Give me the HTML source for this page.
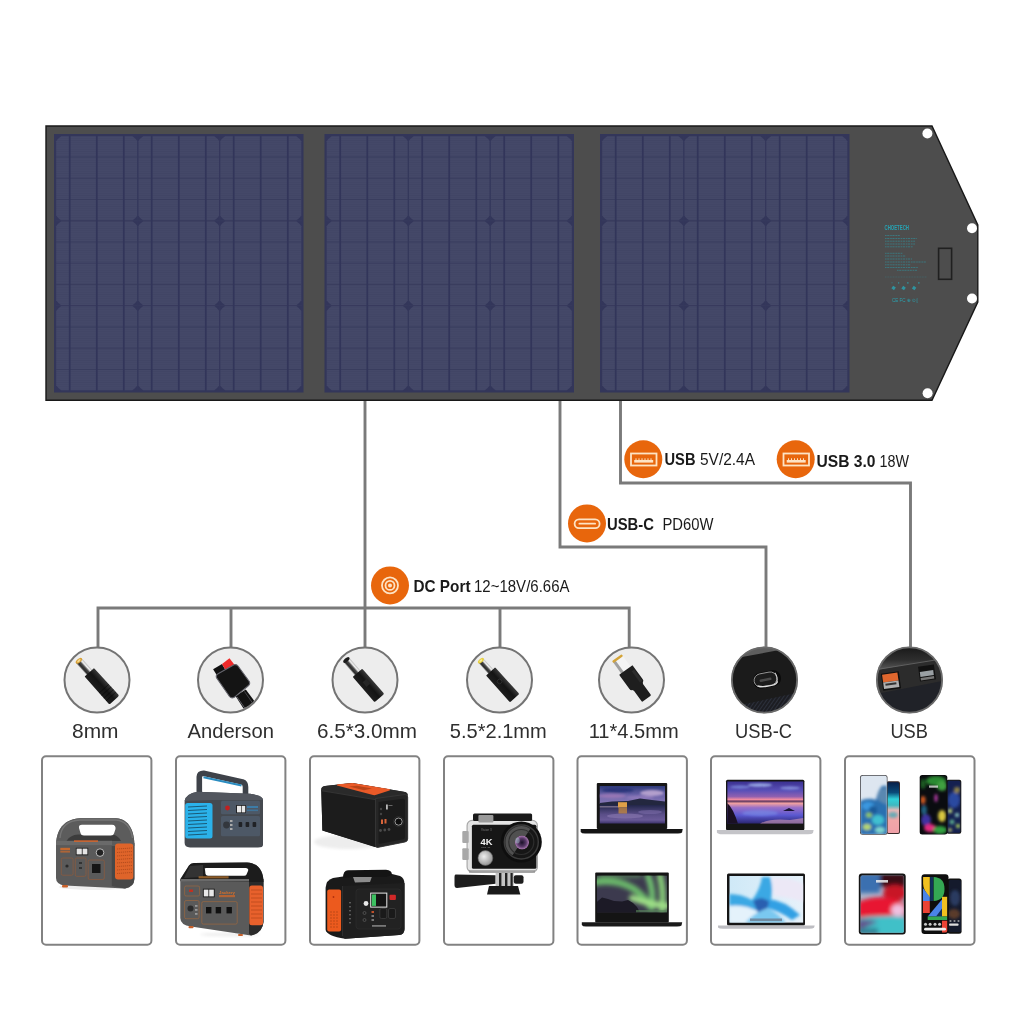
<!DOCTYPE html>
<html><head><meta charset="utf-8">
<style>
html,body{margin:0;padding:0;background:#fff;width:1024px;height:1024px;overflow:hidden}
svg{position:absolute;left:0;top:0;display:block;will-change:transform}
text{font-family:"Liberation Sans",sans-serif}
</style></head><body>
<svg width="1024" height="1024" viewBox="0 0 1024 1024">
<rect width="1024" height="1024" fill="#ffffff"/>
<!-- frame -->
<polygon points="46,126 932,126 977.8,225 977.8,302 932,400.2 46,400.2" fill="#4d4d4d" stroke="#181818" stroke-width="1.4"/>
<defs><pattern id="pScan" width="4" height="2.2" patternUnits="userSpaceOnUse"><rect width="4" height="2.2" fill="#444868"/><rect y="1.4" width="4" height="0.6" fill="#3f4364"/></pattern></defs>
<rect x="54" y="134" width="249.5" height="258.5" fill="#33365a"/>
<path d="M61.2,136.2 L132.4,136.2 Q135.4,138.2 137.4,141.2 L137.4,215.4 Q135.4,218.4 132.4,220.4 L61.2,220.4 Q58.2,218.4 56.2,215.4 L56.2,141.2 Q58.2,138.2 61.2,136.2 Z" fill="url(#pScan)"/>
<path d="M61.2,221.2 L132.4,221.2 Q135.4,223.2 137.4,226.2 L137.4,300.3 Q135.4,303.3 132.4,305.3 L61.2,305.3 Q58.2,303.3 56.2,300.3 L56.2,226.2 Q58.2,223.2 61.2,221.2 Z" fill="url(#pScan)"/>
<path d="M61.2,306.1 L132.4,306.1 Q135.4,308.1 137.4,311.1 L137.4,385.3 Q135.4,388.3 132.4,390.3 L61.2,390.3 Q58.2,388.3 56.2,385.3 L56.2,311.1 Q58.2,308.1 61.2,306.1 Z" fill="url(#pScan)"/>
<path d="M143.2,136.2 L214.3,136.2 Q217.3,138.2 219.3,141.2 L219.3,215.4 Q217.3,218.4 214.3,220.4 L143.2,220.4 Q140.2,218.4 138.2,215.4 L138.2,141.2 Q140.2,138.2 143.2,136.2 Z" fill="url(#pScan)"/>
<path d="M143.2,221.2 L214.3,221.2 Q217.3,223.2 219.3,226.2 L219.3,300.3 Q217.3,303.3 214.3,305.3 L143.2,305.3 Q140.2,303.3 138.2,300.3 L138.2,226.2 Q140.2,223.2 143.2,221.2 Z" fill="url(#pScan)"/>
<path d="M143.2,306.1 L214.3,306.1 Q217.3,308.1 219.3,311.1 L219.3,385.3 Q217.3,388.3 214.3,390.3 L143.2,390.3 Q140.2,388.3 138.2,385.3 L138.2,311.1 Q140.2,308.1 143.2,306.1 Z" fill="url(#pScan)"/>
<path d="M225.1,136.2 L296.3,136.2 Q299.3,138.2 301.3,141.2 L301.3,215.4 Q299.3,218.4 296.3,220.4 L225.1,220.4 Q222.1,218.4 220.1,215.4 L220.1,141.2 Q222.1,138.2 225.1,136.2 Z" fill="url(#pScan)"/>
<path d="M225.1,221.2 L296.3,221.2 Q299.3,223.2 301.3,226.2 L301.3,300.3 Q299.3,303.3 296.3,305.3 L225.1,305.3 Q222.1,303.3 220.1,300.3 L220.1,226.2 Q222.1,223.2 225.1,221.2 Z" fill="url(#pScan)"/>
<path d="M225.1,306.1 L296.3,306.1 Q299.3,308.1 301.3,311.1 L301.3,385.3 Q299.3,388.3 296.3,390.3 L225.1,390.3 Q222.1,388.3 220.1,385.3 L220.1,311.1 Q222.1,308.1 225.1,306.1 Z" fill="url(#pScan)"/>
<line x1="55.8" y1="157.0" x2="301.7" y2="157.0" stroke="#393c5e" stroke-width="0.9"/>
<line x1="55.8" y1="178.3" x2="301.7" y2="178.3" stroke="#393c5e" stroke-width="0.9"/>
<line x1="55.8" y1="199.5" x2="301.7" y2="199.5" stroke="#393c5e" stroke-width="0.9"/>
<line x1="55.8" y1="220.8" x2="301.7" y2="220.8" stroke="#393c5e" stroke-width="0.9"/>
<line x1="55.8" y1="242.0" x2="301.7" y2="242.0" stroke="#393c5e" stroke-width="0.9"/>
<line x1="55.8" y1="263.2" x2="301.7" y2="263.2" stroke="#393c5e" stroke-width="0.9"/>
<line x1="55.8" y1="284.5" x2="301.7" y2="284.5" stroke="#393c5e" stroke-width="0.9"/>
<line x1="55.8" y1="305.7" x2="301.7" y2="305.7" stroke="#393c5e" stroke-width="0.9"/>
<line x1="55.8" y1="327.0" x2="301.7" y2="327.0" stroke="#393c5e" stroke-width="0.9"/>
<line x1="55.8" y1="348.2" x2="301.7" y2="348.2" stroke="#393c5e" stroke-width="0.9"/>
<line x1="55.8" y1="369.5" x2="301.7" y2="369.5" stroke="#393c5e" stroke-width="0.9"/>
<line x1="69.7" y1="135.8" x2="69.7" y2="390.70000000000005" stroke="#32355a" stroke-width="1.7"/>
<line x1="96.8" y1="135.8" x2="96.8" y2="390.70000000000005" stroke="#32355a" stroke-width="1.7"/>
<line x1="123.8" y1="135.8" x2="123.8" y2="390.70000000000005" stroke="#32355a" stroke-width="1.7"/>
<line x1="151.7" y1="135.8" x2="151.7" y2="390.70000000000005" stroke="#32355a" stroke-width="1.7"/>
<line x1="178.8" y1="135.8" x2="178.8" y2="390.70000000000005" stroke="#32355a" stroke-width="1.7"/>
<line x1="205.8" y1="135.8" x2="205.8" y2="390.70000000000005" stroke="#32355a" stroke-width="1.7"/>
<line x1="233.7" y1="135.8" x2="233.7" y2="390.70000000000005" stroke="#32355a" stroke-width="1.7"/>
<line x1="260.7" y1="135.8" x2="260.7" y2="390.70000000000005" stroke="#32355a" stroke-width="1.7"/>
<line x1="287.8" y1="135.8" x2="287.8" y2="390.70000000000005" stroke="#32355a" stroke-width="1.7"/>
<line x1="137.8" y1="135.8" x2="137.8" y2="390.70000000000005" stroke="#35385c" stroke-width="1.1"/>
<line x1="219.7" y1="135.8" x2="219.7" y2="390.70000000000005" stroke="#35385c" stroke-width="1.1"/>
<rect x="324.5" y="134" width="249.5" height="258.5" fill="#33365a"/>
<path d="M331.7,136.2 L402.9,136.2 Q405.9,138.2 407.9,141.2 L407.9,215.4 Q405.9,218.4 402.9,220.4 L331.7,220.4 Q328.7,218.4 326.7,215.4 L326.7,141.2 Q328.7,138.2 331.7,136.2 Z" fill="url(#pScan)"/>
<path d="M331.7,221.2 L402.9,221.2 Q405.9,223.2 407.9,226.2 L407.9,300.3 Q405.9,303.3 402.9,305.3 L331.7,305.3 Q328.7,303.3 326.7,300.3 L326.7,226.2 Q328.7,223.2 331.7,221.2 Z" fill="url(#pScan)"/>
<path d="M331.7,306.1 L402.9,306.1 Q405.9,308.1 407.9,311.1 L407.9,385.3 Q405.9,388.3 402.9,390.3 L331.7,390.3 Q328.7,388.3 326.7,385.3 L326.7,311.1 Q328.7,308.1 331.7,306.1 Z" fill="url(#pScan)"/>
<path d="M413.7,136.2 L484.8,136.2 Q487.8,138.2 489.8,141.2 L489.8,215.4 Q487.8,218.4 484.8,220.4 L413.7,220.4 Q410.7,218.4 408.7,215.4 L408.7,141.2 Q410.7,138.2 413.7,136.2 Z" fill="url(#pScan)"/>
<path d="M413.7,221.2 L484.8,221.2 Q487.8,223.2 489.8,226.2 L489.8,300.3 Q487.8,303.3 484.8,305.3 L413.7,305.3 Q410.7,303.3 408.7,300.3 L408.7,226.2 Q410.7,223.2 413.7,221.2 Z" fill="url(#pScan)"/>
<path d="M413.7,306.1 L484.8,306.1 Q487.8,308.1 489.8,311.1 L489.8,385.3 Q487.8,388.3 484.8,390.3 L413.7,390.3 Q410.7,388.3 408.7,385.3 L408.7,311.1 Q410.7,308.1 413.7,306.1 Z" fill="url(#pScan)"/>
<path d="M495.6,136.2 L566.8,136.2 Q569.8,138.2 571.8,141.2 L571.8,215.4 Q569.8,218.4 566.8,220.4 L495.6,220.4 Q492.6,218.4 490.6,215.4 L490.6,141.2 Q492.6,138.2 495.6,136.2 Z" fill="url(#pScan)"/>
<path d="M495.6,221.2 L566.8,221.2 Q569.8,223.2 571.8,226.2 L571.8,300.3 Q569.8,303.3 566.8,305.3 L495.6,305.3 Q492.6,303.3 490.6,300.3 L490.6,226.2 Q492.6,223.2 495.6,221.2 Z" fill="url(#pScan)"/>
<path d="M495.6,306.1 L566.8,306.1 Q569.8,308.1 571.8,311.1 L571.8,385.3 Q569.8,388.3 566.8,390.3 L495.6,390.3 Q492.6,388.3 490.6,385.3 L490.6,311.1 Q492.6,308.1 495.6,306.1 Z" fill="url(#pScan)"/>
<line x1="326.3" y1="157.0" x2="572.2" y2="157.0" stroke="#393c5e" stroke-width="0.9"/>
<line x1="326.3" y1="178.3" x2="572.2" y2="178.3" stroke="#393c5e" stroke-width="0.9"/>
<line x1="326.3" y1="199.5" x2="572.2" y2="199.5" stroke="#393c5e" stroke-width="0.9"/>
<line x1="326.3" y1="220.8" x2="572.2" y2="220.8" stroke="#393c5e" stroke-width="0.9"/>
<line x1="326.3" y1="242.0" x2="572.2" y2="242.0" stroke="#393c5e" stroke-width="0.9"/>
<line x1="326.3" y1="263.2" x2="572.2" y2="263.2" stroke="#393c5e" stroke-width="0.9"/>
<line x1="326.3" y1="284.5" x2="572.2" y2="284.5" stroke="#393c5e" stroke-width="0.9"/>
<line x1="326.3" y1="305.7" x2="572.2" y2="305.7" stroke="#393c5e" stroke-width="0.9"/>
<line x1="326.3" y1="327.0" x2="572.2" y2="327.0" stroke="#393c5e" stroke-width="0.9"/>
<line x1="326.3" y1="348.2" x2="572.2" y2="348.2" stroke="#393c5e" stroke-width="0.9"/>
<line x1="326.3" y1="369.5" x2="572.2" y2="369.5" stroke="#393c5e" stroke-width="0.9"/>
<line x1="340.2" y1="135.8" x2="340.2" y2="390.70000000000005" stroke="#32355a" stroke-width="1.7"/>
<line x1="367.3" y1="135.8" x2="367.3" y2="390.70000000000005" stroke="#32355a" stroke-width="1.7"/>
<line x1="394.3" y1="135.8" x2="394.3" y2="390.70000000000005" stroke="#32355a" stroke-width="1.7"/>
<line x1="422.2" y1="135.8" x2="422.2" y2="390.70000000000005" stroke="#32355a" stroke-width="1.7"/>
<line x1="449.2" y1="135.8" x2="449.2" y2="390.70000000000005" stroke="#32355a" stroke-width="1.7"/>
<line x1="476.3" y1="135.8" x2="476.3" y2="390.70000000000005" stroke="#32355a" stroke-width="1.7"/>
<line x1="504.2" y1="135.8" x2="504.2" y2="390.70000000000005" stroke="#32355a" stroke-width="1.7"/>
<line x1="531.2" y1="135.8" x2="531.2" y2="390.70000000000005" stroke="#32355a" stroke-width="1.7"/>
<line x1="558.3" y1="135.8" x2="558.3" y2="390.70000000000005" stroke="#32355a" stroke-width="1.7"/>
<line x1="408.3" y1="135.8" x2="408.3" y2="390.70000000000005" stroke="#35385c" stroke-width="1.1"/>
<line x1="490.2" y1="135.8" x2="490.2" y2="390.70000000000005" stroke="#35385c" stroke-width="1.1"/>
<rect x="600" y="134" width="249.5" height="258.5" fill="#33365a"/>
<path d="M607.2,136.2 L678.4,136.2 Q681.4,138.2 683.4,141.2 L683.4,215.4 Q681.4,218.4 678.4,220.4 L607.2,220.4 Q604.2,218.4 602.2,215.4 L602.2,141.2 Q604.2,138.2 607.2,136.2 Z" fill="url(#pScan)"/>
<path d="M607.2,221.2 L678.4,221.2 Q681.4,223.2 683.4,226.2 L683.4,300.3 Q681.4,303.3 678.4,305.3 L607.2,305.3 Q604.2,303.3 602.2,300.3 L602.2,226.2 Q604.2,223.2 607.2,221.2 Z" fill="url(#pScan)"/>
<path d="M607.2,306.1 L678.4,306.1 Q681.4,308.1 683.4,311.1 L683.4,385.3 Q681.4,388.3 678.4,390.3 L607.2,390.3 Q604.2,388.3 602.2,385.3 L602.2,311.1 Q604.2,308.1 607.2,306.1 Z" fill="url(#pScan)"/>
<path d="M689.2,136.2 L760.3,136.2 Q763.3,138.2 765.3,141.2 L765.3,215.4 Q763.3,218.4 760.3,220.4 L689.2,220.4 Q686.2,218.4 684.2,215.4 L684.2,141.2 Q686.2,138.2 689.2,136.2 Z" fill="url(#pScan)"/>
<path d="M689.2,221.2 L760.3,221.2 Q763.3,223.2 765.3,226.2 L765.3,300.3 Q763.3,303.3 760.3,305.3 L689.2,305.3 Q686.2,303.3 684.2,300.3 L684.2,226.2 Q686.2,223.2 689.2,221.2 Z" fill="url(#pScan)"/>
<path d="M689.2,306.1 L760.3,306.1 Q763.3,308.1 765.3,311.1 L765.3,385.3 Q763.3,388.3 760.3,390.3 L689.2,390.3 Q686.2,388.3 684.2,385.3 L684.2,311.1 Q686.2,308.1 689.2,306.1 Z" fill="url(#pScan)"/>
<path d="M771.1,136.2 L842.3,136.2 Q845.3,138.2 847.3,141.2 L847.3,215.4 Q845.3,218.4 842.3,220.4 L771.1,220.4 Q768.1,218.4 766.1,215.4 L766.1,141.2 Q768.1,138.2 771.1,136.2 Z" fill="url(#pScan)"/>
<path d="M771.1,221.2 L842.3,221.2 Q845.3,223.2 847.3,226.2 L847.3,300.3 Q845.3,303.3 842.3,305.3 L771.1,305.3 Q768.1,303.3 766.1,300.3 L766.1,226.2 Q768.1,223.2 771.1,221.2 Z" fill="url(#pScan)"/>
<path d="M771.1,306.1 L842.3,306.1 Q845.3,308.1 847.3,311.1 L847.3,385.3 Q845.3,388.3 842.3,390.3 L771.1,390.3 Q768.1,388.3 766.1,385.3 L766.1,311.1 Q768.1,308.1 771.1,306.1 Z" fill="url(#pScan)"/>
<line x1="601.8" y1="157.0" x2="847.6999999999999" y2="157.0" stroke="#393c5e" stroke-width="0.9"/>
<line x1="601.8" y1="178.3" x2="847.6999999999999" y2="178.3" stroke="#393c5e" stroke-width="0.9"/>
<line x1="601.8" y1="199.5" x2="847.6999999999999" y2="199.5" stroke="#393c5e" stroke-width="0.9"/>
<line x1="601.8" y1="220.8" x2="847.6999999999999" y2="220.8" stroke="#393c5e" stroke-width="0.9"/>
<line x1="601.8" y1="242.0" x2="847.6999999999999" y2="242.0" stroke="#393c5e" stroke-width="0.9"/>
<line x1="601.8" y1="263.2" x2="847.6999999999999" y2="263.2" stroke="#393c5e" stroke-width="0.9"/>
<line x1="601.8" y1="284.5" x2="847.6999999999999" y2="284.5" stroke="#393c5e" stroke-width="0.9"/>
<line x1="601.8" y1="305.7" x2="847.6999999999999" y2="305.7" stroke="#393c5e" stroke-width="0.9"/>
<line x1="601.8" y1="327.0" x2="847.6999999999999" y2="327.0" stroke="#393c5e" stroke-width="0.9"/>
<line x1="601.8" y1="348.2" x2="847.6999999999999" y2="348.2" stroke="#393c5e" stroke-width="0.9"/>
<line x1="601.8" y1="369.5" x2="847.6999999999999" y2="369.5" stroke="#393c5e" stroke-width="0.9"/>
<line x1="615.7" y1="135.8" x2="615.7" y2="390.70000000000005" stroke="#32355a" stroke-width="1.7"/>
<line x1="642.8" y1="135.8" x2="642.8" y2="390.70000000000005" stroke="#32355a" stroke-width="1.7"/>
<line x1="669.8" y1="135.8" x2="669.8" y2="390.70000000000005" stroke="#32355a" stroke-width="1.7"/>
<line x1="697.7" y1="135.8" x2="697.7" y2="390.70000000000005" stroke="#32355a" stroke-width="1.7"/>
<line x1="724.8" y1="135.8" x2="724.8" y2="390.70000000000005" stroke="#32355a" stroke-width="1.7"/>
<line x1="751.8" y1="135.8" x2="751.8" y2="390.70000000000005" stroke="#32355a" stroke-width="1.7"/>
<line x1="779.7" y1="135.8" x2="779.7" y2="390.70000000000005" stroke="#32355a" stroke-width="1.7"/>
<line x1="806.7" y1="135.8" x2="806.7" y2="390.70000000000005" stroke="#32355a" stroke-width="1.7"/>
<line x1="833.8" y1="135.8" x2="833.8" y2="390.70000000000005" stroke="#32355a" stroke-width="1.7"/>
<line x1="683.8" y1="135.8" x2="683.8" y2="390.70000000000005" stroke="#35385c" stroke-width="1.1"/>
<line x1="765.7" y1="135.8" x2="765.7" y2="390.70000000000005" stroke="#35385c" stroke-width="1.1"/>
<!-- label area -->
<g fill="#27a3b3">
<text x="884.5" y="229.5" font-size="7" font-weight="bold" textLength="24.5" lengthAdjust="spacingAndGlyphs">CHOETECH</text>
</g>
<g stroke="#2aa0ae" stroke-width="0.9" opacity="0.55" stroke-dasharray="1.6 0.6 2.2 0.8">
<line x1="885" y1="235.5" x2="900" y2="235.5"/>
<line x1="885" y1="238.5" x2="917" y2="238.5"/>
<line x1="885" y1="241.2" x2="915" y2="241.2"/>
<line x1="885" y1="244" x2="915" y2="244"/>
<line x1="885" y1="246.8" x2="913" y2="246.8"/>
<line x1="885" y1="253.3" x2="903" y2="253.3"/>
<line x1="885" y1="256" x2="906" y2="256"/>
<line x1="885" y1="259" x2="912" y2="259"/>
<line x1="885" y1="262" x2="926" y2="262"/>
<line x1="885" y1="264.8" x2="911" y2="264.8"/>
<line x1="885" y1="267.5" x2="918" y2="267.5"/>
<line x1="897" y1="270.3" x2="917" y2="270.3"/>
</g>
<line x1="885" y1="277" x2="927" y2="277" stroke="#2aa0ae" stroke-width="0.6" opacity="0.4" stroke-dasharray="1 0.6"/>
<g fill="#2aa0ae" opacity="0.85">
<rect x="892" y="286.3" width="3.2" height="3.2" transform="rotate(35 893.6 287.9)"/>
<rect x="902" y="286.5" width="3.2" height="3.2" transform="rotate(35 903.6 288.1)"/>
<rect x="912.5" y="286.5" width="3.2" height="3.2" transform="rotate(35 914.1 288.1)"/>
<rect x="891.5" y="282.3" width="1" height="1" opacity="0.6"/><rect x="898" y="282.3" width="1.2" height="1.2"/><rect x="907" y="282.3" width="1.6" height="1.2"/><rect x="918" y="282.3" width="1.6" height="1.2"/>
</g>
<text x="892" y="301.5" font-size="5.2" fill="#2aa0ae" textLength="27" lengthAdjust="spacingAndGlyphs">CE FC ⊕ ⊙ ▯</text>
<rect x="938.6" y="248.3" width="13" height="31" fill="none" stroke="#202020" stroke-width="1.6"/>
<g fill="#ffffff">
<circle cx="927.4" cy="133.5" r="5"/><circle cx="972" cy="228.3" r="5"/><circle cx="972" cy="298.5" r="5"/><circle cx="927.6" cy="393.3" r="5"/>
</g>
<!-- lines -->
<g fill="none" stroke="#7a7a7a" stroke-width="2.9" stroke-linejoin="miter">
<polyline points="365,401 365,648"/>
<polyline points="98,648 98,608 629.2,608 629.2,648"/>
<polyline points="231,608 231,648"/>
<polyline points="500,608 500,648"/>
<polyline points="560,401 560,547 766,547 766,648"/>
<polyline points="620.5,401 620.5,483 910.5,483 910.5,648"/>
</g>
<!-- connector circles -->
<g fill="#ededed" stroke="#747474" stroke-width="2">
<circle cx="97" cy="680" r="32.5"/>
<circle cx="230.5" cy="680" r="32.5"/>
<circle cx="365" cy="680" r="32.5"/>
<circle cx="499.5" cy="680" r="32.5"/>
<circle cx="631.5" cy="680" r="32.5"/>
<circle cx="764.5" cy="680" r="32.5"/>
<circle cx="909.5" cy="680" r="32.5"/>
</g>
<defs>
<clipPath id="cpUC"><circle cx="764.5" cy="680" r="32.5"/></clipPath>
<clipPath id="cpUA"><circle cx="909.5" cy="680" r="32.5"/></clipPath>
<clipPath id="cpC1"><circle cx="97" cy="680" r="31.5"/></clipPath>
<clipPath id="cpC2"><circle cx="230.5" cy="680" r="31.5"/></clipPath>
<clipPath id="cpC3"><circle cx="365" cy="680" r="31.5"/></clipPath>
<clipPath id="cpC4"><circle cx="499.5" cy="680" r="31.5"/></clipPath>
<clipPath id="cpC5"><circle cx="631.5" cy="680" r="31.5"/></clipPath>
<linearGradient id="gBody" x1="0" y1="0" x2="0" y2="1">
<stop offset="0" stop-color="#3a3a3a"/><stop offset="0.45" stop-color="#141414"/><stop offset="1" stop-color="#1e1e1e"/>
</linearGradient>
<linearGradient id="gBarrel" x1="0" y1="0" x2="0" y2="1">
<stop offset="0" stop-color="#bdbdbd"/><stop offset="0.25" stop-color="#f4f4f4"/><stop offset="0.5" stop-color="#4a4a4a"/><stop offset="0.8" stop-color="#2a2a2a"/><stop offset="1" stop-color="#9a9a9a"/>
</linearGradient>
<pattern id="pStripe" width="3" height="3" patternUnits="userSpaceOnUse" patternTransform="rotate(35)">
<rect width="3" height="3" fill="#1c1d22"/><rect width="0.9" height="3" fill="#2e323e"/>
</pattern>
</defs>
<!-- plug 1: 8mm -->
<g clip-path="url(#cpC1)">
<g transform="translate(97.3,681.2) rotate(48)">
<rect x="-27.5" y="-3.7" width="17" height="7.4" fill="url(#gBarrel)"/>
<ellipse cx="-27.5" cy="0" rx="1.9" ry="3.9" fill="#d9a032"/>
<ellipse cx="-27.5" cy="0" rx="0.9" ry="2.2" fill="#f4d890"/>
<path d="M-12,-5.8 Q-12,-6.3 -11,-6.3 L24,-6.6 Q25.5,-6.6 25.5,-5 L25.5,5 Q25.5,6.6 24,6.6 L-11,6.3 Q-12,6.3 -12,5.8 Z" fill="url(#gBody)"/>
<g stroke="#000" stroke-width="0.8" opacity="0.55"><line x1="10" y1="-6.4" x2="10" y2="6.4"/><line x1="13.5" y1="-6.5" x2="13.5" y2="6.5"/><line x1="17" y1="-6.5" x2="17" y2="6.5"/><line x1="20.5" y1="-6.6" x2="20.5" y2="6.6"/></g>
</g>
</g>
<!-- plug 2: Anderson -->
<g clip-path="url(#cpC2)">
<polygon points="235.5,696 245.8,689.4 258,706 247,714" fill="#111"/>
<line x1="237" y1="697" x2="247.5" y2="712" stroke="#6a6a72" stroke-width="0.9"/><line x1="244.5" y1="691.5" x2="255" y2="706.5" stroke="#55555c" stroke-width="0.8"/>
<polygon points="213.1,669.3 222,664.1 226.8,672.3 217.9,677.1" fill="#111"/>
<polygon points="222,664.1 229.5,658.3 235,665.5 226.8,672.3" fill="#ee2a2a"/>
<path d="M216.5,677.8 Q215.5,675 218.5,673.5 L234,664.8 Q236.5,664 238,666 L249.3,681.5 Q250.5,684 248,686 L234.3,697.3 Q231.5,698.8 229.5,696.5 Z" fill="#141414" stroke="#66666e" stroke-width="1.1"/>
</g>
<!-- plug 3: 6.5*3.0 -->
<g clip-path="url(#cpC3)">
<g transform="translate(363.1,679.2) rotate(49)">
<rect x="-25.5" y="-3.6" width="18" height="7.2" fill="url(#gBarrel)"/>
<ellipse cx="-25.5" cy="0" rx="1.8" ry="3.8" fill="#1a1a1a"/>
<path d="M-8.5,-5.8 Q-8.5,-6.3 -7.5,-6.3 L23.5,-6.4 Q25,-6.4 25,-5 L25,5 Q25,6.4 23.5,6.4 L-7.5,6.3 Q-8.5,6.3 -8.5,5.8 Z" fill="url(#gBody)"/>
<rect x="2" y="-2.5" width="6" height="5" fill="#262626"/>
</g>
</g>
<!-- plug 4: 5.5*2.1 -->
<g clip-path="url(#cpC4)">
<g transform="translate(497.6,679.2) rotate(48)">
<rect x="-25" y="-3.3" width="15" height="6.6" fill="url(#gBarrel)"/>
<ellipse cx="-25" cy="0" rx="1.9" ry="3.6" fill="#e8d040"/>
<ellipse cx="-25" cy="0" rx="0.8" ry="1.8" fill="#f8f0a0"/>
<path d="M-10.5,-5.6 Q-10.5,-6.1 -9.5,-6.1 L24,-6.3 Q25.5,-6.3 25.5,-5 L25.5,5 Q25.5,6.3 24,6.3 L-9.5,6.1 Q-10.5,6.1 -10.5,5.6 Z" fill="url(#gBody)"/>
<circle cx="3" cy="0" r="2.3" fill="none" stroke="#3a3a3a" stroke-width="0.6"/>
</g>
</g>
<!-- plug 5: 11*4.5 -->
<g clip-path="url(#cpC5)">
<g transform="translate(632,678.5) rotate(54)">
<rect x="-24.5" y="-5.8" width="15.5" height="11.6" fill="#f4f4f4"/>
<rect x="-24.5" y="2.8" width="15.5" height="3" fill="#a0a0a0"/>
<rect x="-25.8" y="-6" width="2.4" height="12" rx="1" fill="#d4a438"/>
<path d="M-10.5,-7.8 Q-10.5,-8.2 -9.5,-8.2 L7,-8.2 Q9,-8.2 9.5,-6.5 L11,-5.6 L24,-5.6 Q25,-5.6 25,-4.5 L25,4.5 Q25,5.6 24,5.6 L11,5.6 L9.5,6.5 Q9,8.2 7,8.2 L-9.5,8.2 Q-10.5,8.2 -10.5,7.8 Z" fill="#1e1e1e"/>
<rect x="-6" y="-7" width="14" height="3" fill="#2c2c2c"/>
</g>
</g>
<!-- USB-C port image -->
<g clip-path="url(#cpUC)">
<rect x="731" y="646" width="67" height="68" fill="#1b1b1b"/>
<polygon points="729,644 800,644 800,650 776.8,650.5 742,657 729,661" fill="#5e5e5e"/>
<polygon points="729,708 746,703.8 790.5,694.2 800,692 800,716 729,716" fill="url(#pStripe)"/>
<g transform="translate(766.5,679.5) rotate(-11)">
<rect x="-13.5" y="-8" width="28" height="16" rx="7.5" fill="#0a0a0a"/>
<rect x="-12.5" y="-6.8" width="23" height="13.2" rx="6.6" fill="#1c1c1c" stroke="#9a9a9a" stroke-width="0.9"/>
<path d="M-10,4.5 Q-6,6.8 0,6.8 L5,6.8 Q9,6.8 10.5,4" fill="none" stroke="#e0e0e0" stroke-width="1.2"/>
<rect x="-7" y="-1.2" width="12" height="2.6" rx="1" fill="#4a4a4a"/>
<path d="M9.5,-5 Q12,0 9.5,5" fill="none" stroke="#cfcfcf" stroke-width="1"/>
</g>
</g>
<circle cx="764.5" cy="680" r="32.5" fill="none" stroke="#6a6a6a" stroke-width="1.6"/>
<!-- USB port image -->
<g clip-path="url(#cpUA)">
<rect x="876" y="646" width="68" height="68" fill="#2c2c2c"/>
<linearGradient id="gTopU" x1="0" y1="0" x2="0" y2="1"><stop offset="0" stop-color="#161616"/><stop offset="0.6" stop-color="#2e2e2e"/><stop offset="1" stop-color="#5a5a5a"/></linearGradient>
<polygon points="874,645 944,645 944,659 933.5,659.7 879.5,669.6 874,670" fill="url(#gTopU)"/>
<polygon points="874,694 882.9,692.8 941,681.2 944,681 944,716 874,716" fill="#202228"/>
<line x1="874" y1="670" x2="944" y2="658.6" stroke="#6a6a6a" stroke-width="0.8"/>
<g transform="translate(891,681) rotate(-8)">
<rect x="-9" y="-8.5" width="18" height="17" fill="#111"/>
<rect x="-8" y="-7.5" width="15.5" height="8" fill="#e0672e"/>
<rect x="-8" y="0.5" width="15.5" height="6.5" fill="#b0b0b0"/>
<rect x="-6" y="2" width="11" height="2" fill="#333"/>
</g>
<g transform="translate(927,673) rotate(-8)">
<rect x="-8" y="-7.5" width="16" height="15" fill="#111"/>
<rect x="-7" y="-2" width="13.5" height="5" fill="#9aa0a4"/>
<rect x="-7" y="4" width="13.5" height="2.5" fill="#777"/>
</g>
</g>
<circle cx="909.5" cy="680" r="32.5" fill="none" stroke="#6a6a6a" stroke-width="1.6"/>

<!-- orange badges -->
<g fill="#e8660c">
<circle cx="587" cy="523.4" r="19"/>
<circle cx="643.3" cy="459.3" r="19"/>
<circle cx="795.7" cy="459.3" r="19"/>
<circle cx="390" cy="585.4" r="19"/>
</g>
<g fill="none" stroke="#fde3c4" stroke-width="1.8">
<rect x="574.6" y="519.3" width="25" height="8.8" rx="4.4"/>
<rect x="631" y="453.5" width="25.5" height="12"/>
<rect x="783.5" y="453.5" width="25.5" height="12"/>
<circle cx="390" cy="585.4" r="8"/>
<circle cx="390" cy="585.4" r="4.5"/>
</g>
<g fill="#fde3c4">
<rect x="634.2" y="460" width="19" height="2.6"/>
<rect x="786.7" y="460" width="19" height="2.6"/>
<rect x="578.5" y="522.7" width="17.5" height="1.9" rx="0.9"/>
<g transform="translate(0,0)"><rect x="635.5" y="458.3" width="1" height="1.8"/><rect x="638.5" y="458.3" width="1" height="1.8"/><rect x="641.5" y="458.3" width="1" height="1.8"/><rect x="644.5" y="458.3" width="1" height="1.8"/><rect x="647.5" y="458.3" width="1" height="1.8"/><rect x="650.5" y="458.3" width="1" height="1.8"/></g>
<g transform="translate(152.5,0)"><rect x="635.5" y="458.3" width="1" height="1.8"/><rect x="638.5" y="458.3" width="1" height="1.8"/><rect x="641.5" y="458.3" width="1" height="1.8"/><rect x="644.5" y="458.3" width="1" height="1.8"/><rect x="647.5" y="458.3" width="1" height="1.8"/><rect x="650.5" y="458.3" width="1" height="1.8"/></g>
<circle cx="390" cy="585.4" r="2"/>
</g>
<!-- badge labels -->
<g fill="#1a1a1a" font-size="16.3" lengthAdjust="spacingAndGlyphs">
<text x="607" y="529.8" font-weight="bold" textLength="47" lengthAdjust="spacingAndGlyphs">USB-C</text>
<text x="662.5" y="529.8" textLength="51" lengthAdjust="spacingAndGlyphs">PD60W</text>
<text x="664.5" y="465.4" font-weight="bold" textLength="31" lengthAdjust="spacingAndGlyphs">USB</text>
<text x="700" y="465.4" textLength="55" lengthAdjust="spacingAndGlyphs">5V/2.4A</text>
<text x="816.5" y="467" font-weight="bold" textLength="59" lengthAdjust="spacingAndGlyphs">USB 3.0</text>
<text x="879.5" y="467" textLength="29.5" lengthAdjust="spacingAndGlyphs">18W</text>
<text x="413.5" y="592.2" font-weight="bold" textLength="57" lengthAdjust="spacingAndGlyphs">DC Port</text>
<text x="474" y="592.2" textLength="95.5" lengthAdjust="spacingAndGlyphs">12~18V/6.66A</text>
</g>
<g fill="#2e2e2e" font-size="21" text-anchor="middle">
<text x="95.3" y="737.6" textLength="46.5" lengthAdjust="spacingAndGlyphs">8mm</text>
<text x="230.7" y="737.6" textLength="86.5" lengthAdjust="spacingAndGlyphs">Anderson</text>
<text x="367" y="737.6" textLength="100" lengthAdjust="spacingAndGlyphs">6.5*3.0mm</text>
<text x="498.3" y="737.6" textLength="97" lengthAdjust="spacingAndGlyphs">5.5*2.1mm</text>
<text x="633.7" y="737.6" textLength="90" lengthAdjust="spacingAndGlyphs">11*4.5mm</text>
<text x="763.6" y="737.6" textLength="57" lengthAdjust="spacingAndGlyphs">USB-C</text>
<text x="909.2" y="737.6" textLength="37.5" lengthAdjust="spacingAndGlyphs">USB</text>
</g>
<!-- product boxes -->
<g fill="none" stroke="#828282" stroke-width="2">
<rect x="42" y="756.3" width="109.4" height="188.5" rx="4"/>
<rect x="176" y="756.3" width="109.4" height="188.5" rx="4"/>
<rect x="310" y="756.3" width="109.4" height="188.5" rx="4"/>
<rect x="444" y="756.3" width="109.4" height="188.5" rx="4"/>
<rect x="577.5" y="756.3" width="109.4" height="188.5" rx="4"/>
<rect x="711" y="756.3" width="109.4" height="188.5" rx="4"/>
<rect x="845" y="756.3" width="129.5" height="188.5" rx="4"/>
</g>
<defs>
<linearGradient id="gJtop" x1="0" y1="0" x2="0" y2="1"><stop offset="0" stop-color="#7a7a7a"/><stop offset="1" stop-color="#5e5e5e"/></linearGradient>
<linearGradient id="gShadow" x1="0" y1="0" x2="0" y2="1"><stop offset="0" stop-color="#e6e6e6"/><stop offset="1" stop-color="#ffffff"/></linearGradient>
<radialGradient id="gLens" cx="0.5" cy="0.5" r="0.55"><stop offset="0" stop-color="#1a1028"/><stop offset="0.55" stop-color="#5a3a6a"/><stop offset="0.85" stop-color="#a070a8"/><stop offset="1" stop-color="#2a2a2a"/></radialGradient>
<radialGradient id="gSilver" cx="0.4" cy="0.4" r="0.7"><stop offset="0" stop-color="#eeeeee"/><stop offset="1" stop-color="#8a8a8a"/></radialGradient>
<linearGradient id="gTP1" x1="0" y1="0" x2="0" y2="1">
<stop offset="0" stop-color="#3d4a88"/><stop offset="0.3" stop-color="#8a78b0"/><stop offset="0.38" stop-color="#2a2c4c"/><stop offset="0.55" stop-color="#1f2140"/><stop offset="0.75" stop-color="#6a5a94"/><stop offset="1" stop-color="#3a3468"/>
</linearGradient>
<linearGradient id="gTP2" x1="0" y1="0" x2="1" y2="0.3">
<stop offset="0" stop-color="#3c3a58"/><stop offset="0.35" stop-color="#78c878"/><stop offset="0.55" stop-color="#4a5a58"/><stop offset="0.8" stop-color="#90d870"/><stop offset="1" stop-color="#5a8a5a"/>
</linearGradient>
<linearGradient id="gMB1" x1="0" y1="0" x2="0" y2="1">
<stop offset="0" stop-color="#4a3a90"/><stop offset="0.15" stop-color="#8a9ae0"/><stop offset="0.3" stop-color="#7050b0"/><stop offset="0.42" stop-color="#f090a8"/><stop offset="0.5" stop-color="#503070"/><stop offset="0.56" stop-color="#f0a0a0"/><stop offset="0.7" stop-color="#6a50b8"/><stop offset="0.85" stop-color="#3a3ab0"/><stop offset="1" stop-color="#2a2050"/>
</linearGradient>
<linearGradient id="gMB2" x1="0" y1="0" x2="1" y2="0">
<stop offset="0" stop-color="#d4ecf8"/><stop offset="0.5" stop-color="#b8dcf2"/><stop offset="1" stop-color="#e8f0f8"/>
</linearGradient>
<linearGradient id="gS20" x1="0" y1="0" x2="0" y2="1">
<stop offset="0" stop-color="#dfe8f2"/><stop offset="0.35" stop-color="#c8d8e8"/><stop offset="0.5" stop-color="#4a90c0"/><stop offset="0.75" stop-color="#2a78b0"/><stop offset="1" stop-color="#60c0c8"/>
</linearGradient>
<linearGradient id="gS10" x1="0" y1="0" x2="0" y2="1">
<stop offset="0" stop-color="#0a3050"/><stop offset="0.3" stop-color="#20b0c8"/><stop offset="0.55" stop-color="#80c8d0"/><stop offset="0.65" stop-color="#f0b0b0"/><stop offset="1" stop-color="#f0a8b0"/>
</linearGradient>
<linearGradient id="gG8" x1="0" y1="0" x2="0" y2="1">
<stop offset="0" stop-color="#0a2a10"/><stop offset="0.2" stop-color="#1a5a20"/><stop offset="0.45" stop-color="#101820"/><stop offset="0.7" stop-color="#2a3a70"/><stop offset="0.85" stop-color="#c02080"/><stop offset="1" stop-color="#208a30"/>
</linearGradient>
<linearGradient id="gV50" x1="0" y1="0" x2="0" y2="1">
<stop offset="0" stop-color="#1a2a5a"/><stop offset="0.5" stop-color="#2a4a8a"/><stop offset="0.8" stop-color="#6a8a4a"/><stop offset="1" stop-color="#1a2a3a"/>
</linearGradient>
<linearGradient id="gIPad" x1="0" y1="0" x2="0.3" y2="1">
<stop offset="0" stop-color="#3a68a8"/><stop offset="0.3" stop-color="#8aa0c8"/><stop offset="0.5" stop-color="#e02038"/><stop offset="0.65" stop-color="#d83a70"/><stop offset="0.8" stop-color="#50a8b0"/><stop offset="1" stop-color="#30b8b8"/>
</linearGradient>
<linearGradient id="gP3a" x1="0" y1="0" x2="0" y2="1">
<stop offset="0" stop-color="#10141e"/><stop offset="0.5" stop-color="#2a3448"/><stop offset="1" stop-color="#151515"/>
</linearGradient>
</defs>

<!-- ===== Box 1: Jackery 290 ===== -->
<g>
<ellipse cx="95" cy="887" rx="36" ry="3" fill="#eeeeee"/>
<path d="M56,846 C56,830 64,819 80,818.3 L116,818.3 C129,819 134.4,831 134.4,846 L134.4,879 Q134,887 125,888.5 L65,885.5 Q56,884.5 56,878 Z" fill="#5a5a5a"/>
<path d="M111.8,843 L134.4,843 L134.4,879 Q134,887 125,888.5 L111.8,886 Z" fill="#484848"/>
<path d="M56,846 C56,830 64,819 80,818.3 L116,818.3 C129,819 134.4,831 134.4,846 Z" fill="#5c5c5c"/>
<path d="M66.5,841 Q70,835 78,834.5 L112,834.5 Q118,835 121,841 Z" fill="#3c3c3c"/>
<path d="M79,828 Q78.5,824.8 82,824.8 L112,824.8 Q116,825 115.5,829 L114,833.5 Q113.5,835.5 111,835.5 L84,835.5 Q81,835.5 80.5,833 Z" fill="#ffffff"/>
<path d="M60,838 C61,826 68,820.5 80,820 L116,820 C126,821 131,828 132.5,838" fill="none" stroke="#757575" stroke-width="1.3"/>
<rect x="56" y="840.8" width="56" height="4.2" fill="#6a6a6a"/>
<rect x="74" y="840.3" width="24" height="1.6" fill="#d8652a" opacity="0.9"/>
<rect x="115" y="843.5" width="18.3" height="36" rx="3" fill="#df642a"/>
<g stroke="#a8461a" stroke-width="0.8" stroke-dasharray="1.2 0.8"><line x1="117" y1="849" x2="132" y2="848"/><line x1="117" y1="852.5" x2="132" y2="851.5"/><line x1="117" y1="856" x2="132" y2="855"/><line x1="117" y1="859.5" x2="132" y2="858.5"/><line x1="117" y1="863" x2="132" y2="862"/><line x1="117" y1="866.5" x2="132" y2="865.5"/><line x1="117" y1="870" x2="132" y2="869"/><line x1="117" y1="873.5" x2="132" y2="872.5"/></g>
<rect x="60.3" y="847.8" width="9.7" height="2.2" fill="#d06a2a" opacity="0.9"/>
<rect x="60.3" y="850.6" width="9.7" height="2" fill="#d06a2a" opacity="0.7"/>
<rect x="75.8" y="847.8" width="12.4" height="7.5" fill="#1a1a1a"/>
<rect x="76.6" y="848.6" width="5.2" height="5.8" fill="#e4e4e4"/><rect x="82.6" y="848.6" width="4.8" height="5.8" fill="#e4e4e4"/>
<circle cx="100" cy="852.6" r="3.8" fill="#222" stroke="#c8c8c8" stroke-width="0.9"/>
<g fill="none" stroke="#9a5a36" stroke-width="0.6"><rect x="61.3" y="858" width="11.8" height="17.2" rx="1.5"/><rect x="75.3" y="858" width="10.7" height="18.3" rx="1.5"/><rect x="88.2" y="860" width="16.1" height="19.5" rx="1.5"/></g>
<rect x="92" y="864" width="8.5" height="9" fill="#151515"/>
<circle cx="67" cy="866" r="1.6" fill="#2a2a2a"/>
<rect x="79" y="862" width="3" height="2" fill="#333"/><rect x="79" y="867" width="3" height="2" fill="#333"/>
<rect x="62" y="885" width="6" height="2.5" rx="1" fill="#c8602a"/>
</g>

<!-- ===== Box 2 upper: blue station ===== -->
<g>
<path d="M199.3,795 L199.3,777 Q199.5,773.3 203.5,773.3 L242.5,782 Q245.5,783 245.5,787 L245.5,797" fill="none" stroke="#3e4249" stroke-width="5.6" stroke-linejoin="round"/>
<path d="M203.5,777.2 L241.5,785.6" stroke="#2a8cc0" stroke-width="2"/>
<path d="M184.6,801 Q186,793.5 197.5,791.7 L250,793.8 Q263,795.5 263,800 L263,845 Q263,847.5 258,847.5 L190,847.5 Q184.6,847 184.6,843 Z" fill="#45494f"/>
<path d="M184.6,801 Q186,793.5 197.5,791.7 L250,793.8 Q263,795.5 263,800 L212.5,800 Z" fill="#52565e"/>
<rect x="185.2" y="803" width="27.3" height="35.4" rx="2.5" fill="#2bb2ea"/>
<g stroke="#1a5a78" stroke-width="1.1"><line x1="188" y1="807" x2="207" y2="806"/><line x1="188" y1="810.5" x2="207" y2="809.5"/><line x1="188" y1="814" x2="207" y2="813"/><line x1="188" y1="817.5" x2="207" y2="816.5"/><line x1="188" y1="821" x2="207" y2="820"/><line x1="188" y1="824.5" x2="207" y2="823.5"/><line x1="188" y1="828" x2="207" y2="827"/><line x1="188" y1="831.5" x2="207" y2="830.5"/><line x1="188" y1="835" x2="207" y2="834"/></g>
<rect x="221" y="800.8" width="39" height="13.5" rx="1.5" fill="#4d5866"/>
<rect x="221" y="816" width="39" height="20.3" rx="1.5" fill="#4d5866"/>
<rect x="236.2" y="805" width="9.6" height="8.2" fill="#151515"/>
<rect x="237" y="805.8" width="4" height="6.6" fill="#e8e8e8"/><rect x="241.6" y="805.8" width="3.6" height="6.6" fill="#e8e8e8"/>
<rect x="247" y="806" width="11" height="2" fill="#3a86b8" opacity="0.8"/><rect x="247" y="809.5" width="11" height="1.6" fill="#3a86b8" opacity="0.6"/>
<circle cx="227.5" cy="808" r="2.4" fill="#c02020"/>
<circle cx="226.5" cy="825" r="3.4" fill="#33373d"/>
<rect x="230" y="820" width="2.5" height="2" fill="#aaa"/><rect x="230" y="824" width="2.5" height="2" fill="#aaa"/><rect x="230" y="828" width="2.5" height="2" fill="#aaa"/>
<rect x="238.6" y="822" width="3.6" height="5" rx="0.8" fill="#202226"/><rect x="245.6" y="822" width="3.6" height="5" rx="0.8" fill="#202226"/><rect x="252.6" y="822" width="3.6" height="5" rx="0.8" fill="#202226"/>
</g>

<!-- ===== Box 2 lower: Jackery 1000 ===== -->
<g>
<ellipse cx="230" cy="934.5" rx="30" ry="2" fill="#eeeeee" filter="url(#fB15)"/>
<path d="M180.3,879 L189,865.5 Q190.5,863 194,863 L247,862.4 C259,863 263.5,872 263.5,882 L263.5,922 Q262.5,933 251,935.5 L191,926.5 Q180.3,925 180.3,918 Z" fill="#5a5a5a"/>
<path d="M249,879 L263.5,879 L263.5,922 Q262.5,933 251,935.5 L249,934 Z" fill="#2a2a2a"/>
<path d="M180.3,879.5 L189,865.5 Q190.5,863 194,863 L247,862.4 C259,863 263.5,872 263.5,882 L180.3,881 Z" fill="#1c1c1c"/>
<path d="M190,866 L203,865 L203,877 L184,878 Z" fill="#333"/>
<path d="M205,869.5 Q204,868 206,868 L246,868 Q249,868.5 248,871 L246.5,874.5 Q246,875.8 244,875.8 L208,875.8 Q206,875.8 205.5,874 Z" fill="#ffffff"/>
<rect x="198.6" y="876.2" width="30" height="2.2" fill="#a86a2a" opacity="0.8"/>
<rect x="180.3" y="879" width="68.7" height="2.5" fill="#6a6a6a"/>
<rect x="249.3" y="885.4" width="13.7" height="39.8" rx="2.5" fill="#e8612c"/>
<g stroke="#a8401a" stroke-width="0.6"><line x1="251" y1="890" x2="262" y2="890"/><line x1="251" y1="894" x2="262" y2="894"/><line x1="251" y1="898" x2="262" y2="898"/><line x1="251" y1="902" x2="262" y2="902"/><line x1="251" y1="906" x2="262" y2="906"/><line x1="251" y1="910" x2="262" y2="910"/><line x1="251" y1="914" x2="262" y2="914"/><line x1="251" y1="918" x2="262" y2="918"/></g>
<rect x="184.6" y="886" width="15" height="10" rx="1.5" fill="none" stroke="#a86a3a" stroke-width="0.6"/>
<rect x="189" y="889.5" width="4" height="2.5" fill="#c03020"/>
<rect x="202.9" y="888.7" width="11.8" height="8.6" fill="#1a1a1a"/>
<rect x="203.8" y="889.6" width="4.6" height="6.8" fill="#e8e8e8"/><rect x="209.2" y="889.6" width="4.6" height="6.8" fill="#e8e8e8"/>
<text x="219" y="894" font-size="4" font-weight="bold" fill="#d8702a" textLength="16" lengthAdjust="spacingAndGlyphs">Jackery</text><rect x="219" y="895" width="16" height="2.2" fill="#c8652a" opacity="0.8"/>
<rect x="184.6" y="900.5" width="14.5" height="18.2" rx="1.5" fill="none" stroke="#a86a3a" stroke-width="0.6"/>
<rect x="201.8" y="901.6" width="35.4" height="22.5" rx="1.5" fill="none" stroke="#a86a3a" stroke-width="0.6"/>
<circle cx="190.5" cy="908.5" r="3" fill="#2a2a2a"/>
<rect x="195" y="905" width="2.5" height="1.8" fill="#999"/><rect x="195" y="909" width="2.5" height="1.8" fill="#999"/><rect x="195" y="913" width="2.5" height="1.8" fill="#999"/>
<rect x="206" y="907" width="5.4" height="6.4" fill="#111"/><rect x="215.7" y="907" width="5.4" height="6.4" fill="#111"/><rect x="226.5" y="907" width="5.4" height="6.4" fill="#111"/>
<rect x="188.5" y="926" width="5" height="2.2" rx="1" fill="#c8602a"/><rect x="238" y="934" width="5" height="2" rx="1" fill="#c8602a"/>
</g>

<!-- ===== Box 3 upper: black cube orange top ===== -->
<g>
<ellipse cx="348" cy="842" rx="34" ry="7" fill="#ededed" filter="url(#fB15)"/>
<path d="M321.3,790 Q321,786.5 325,786 L352,782.9 L405,792 Q408,793 407.7,797 L407.7,839 Q407.7,841.5 405,842 L377.5,847.5 L322.4,830.5 Z" fill="#1f1f1f"/>
<polygon points="321.3,790 375.5,799 375.5,847.3 322.4,830.5" fill="#1c1c1c"/>
<path d="M321.3,790 Q321,786.5 325,786 L352,782.9 L405,792 Q408,793 407.7,795 L375.5,799.5 L321.3,790.5 Z" fill="#2a2a2a"/>
<path d="M337,785.5 Q336,784.5 338,784.2 L352.5,783 L389,789 Q391,789.5 389.5,790.5 L375.5,795 Q374.5,795.3 373,795 Z" fill="#ea5a28"/>
<path d="M349,786.5 L357,785.7 L372,788.6 L364,790.2 Z" fill="#b84418"/>
<line x1="322" y1="790.8" x2="375" y2="799.6" stroke="#3a3a3a" stroke-width="0.8"/>
<path d="M375.5,798.5 L405,794.5 Q407.7,794.5 407.7,797.5 L407.7,839 Q407.7,841.5 405,842 L377.5,847.5 Q375.5,847.5 375.5,845 Z" fill="#262626" stroke="#3a3a3a" stroke-width="0.8"/>
<path d="M378.5,802 L403,798.8 Q405,798.8 405,800.5 L405,837 Q405,839 403,839.3 L380,843.8 Q378.5,844 378.5,842.5 Z" fill="#1b1b1b"/>
<circle cx="398.6" cy="821.6" r="3.6" fill="#0e0e0e" stroke="#9a9a9a" stroke-width="1"/>
<circle cx="398.6" cy="821.6" r="5.2" fill="none" stroke="#2e2e2e" stroke-width="0.8"/>
<rect x="381" y="819.5" width="2" height="4.5" fill="#d8643a"/><rect x="384.5" y="819" width="2" height="4.5" fill="#d8643a"/>
<rect x="386" y="804.5" width="1.8" height="5" fill="#bbb"/>
<rect x="388.5" y="805" width="4" height="1" fill="#666"/>
<circle cx="381" cy="809" r="1.2" fill="#444"/><circle cx="381" cy="814" r="1.2" fill="#444"/>
<circle cx="380.5" cy="830.5" r="1.4" fill="#4a4a4a"/><circle cx="384.8" cy="830" r="1.4" fill="#4a4a4a"/><circle cx="389" cy="829.5" r="1.4" fill="#4a4a4a"/>
</g>

<!-- ===== Box 3 lower: FlashFish ===== -->
<g>
<path d="M325.6,888 Q326,880 333,878 L343,876.5 L392,874 L400,876 Q404.5,878 404.5,884 L404.5,929 Q404.5,934.5 399,935 L345,938.8 Q327,936 325.6,930 Z" fill="#1a1a1a"/>
<path d="M353,877 L372,876.5 L370,882 L355,882.5 Z" fill="#8c8c8c"/>
<path d="M343,878 Q343,870.5 348,870.2 L386,869.8 Q392,870 392,875 L386,877 L352,877 Z" fill="#141414"/>
<path d="M342.2,886 L404.5,883 L404.5,929 Q404.5,934.5 399,935 L345,938.8 L342.2,937 Z" fill="#1f1f1f"/>
<rect x="327.2" y="889.4" width="13.9" height="42" rx="2" fill="#ec5a1e"/>
<g fill="#9a3a12" opacity="0.75">
<circle cx="331" cy="912" r="0.7"/><circle cx="334" cy="912" r="0.7"/><circle cx="337" cy="912" r="0.7"/>
<circle cx="331" cy="915" r="0.7"/><circle cx="334" cy="915" r="0.7"/><circle cx="337" cy="915" r="0.7"/>
<circle cx="331" cy="918" r="0.7"/><circle cx="334" cy="918" r="0.7"/><circle cx="337" cy="918" r="0.7"/>
<circle cx="331" cy="921" r="0.7"/><circle cx="334" cy="921" r="0.7"/><circle cx="337" cy="921" r="0.7"/>
<circle cx="331" cy="924" r="0.7"/><circle cx="334" cy="924" r="0.7"/><circle cx="337" cy="924" r="0.7"/>
<circle cx="331" cy="927" r="0.7"/><circle cx="334" cy="927" r="0.7"/><circle cx="337" cy="927" r="0.7"/>
</g>
<circle cx="333.5" cy="897" r="0.9" fill="#b03010"/>
<line x1="342.5" y1="886" x2="342.5" y2="936" stroke="#2e2e2e" stroke-width="1"/>
<g fill="#5a5a5a"><rect x="349" y="902" width="2" height="1.4"/><rect x="349" y="906" width="2" height="1.4"/><rect x="349" y="910" width="2" height="1.4"/><rect x="349" y="914" width="2" height="1.4"/><rect x="349" y="918" width="2" height="1.4"/><rect x="349" y="922" width="2" height="1.4"/></g>
<rect x="356" y="889" width="45" height="40" rx="3" fill="#222" stroke="#2c2c2c" stroke-width="0.8"/>
<rect x="370.2" y="892.6" width="17.1" height="15" fill="#e8e8e8"/>
<rect x="371.2" y="893.6" width="15.1" height="13" fill="#141414"/>
<rect x="371.8" y="894.4" width="4.2" height="11.5" fill="#3cc060"/>
<rect x="389.5" y="894.7" width="6.4" height="5.4" rx="1" fill="#d02828"/>
<circle cx="366" cy="903.5" r="2.4" fill="#e8e8e8"/>
<rect x="379.8" y="908.5" width="7" height="10" rx="1.5" fill="#1a1a1a" stroke="#3a3a3a" stroke-width="0.9"/>
<rect x="388.5" y="908.5" width="7" height="10" rx="1.5" fill="#1a1a1a" stroke="#3a3a3a" stroke-width="0.9"/>
<rect x="371.5" y="911" width="2.5" height="2" fill="#c0502a"/><rect x="371.5" y="915" width="2.5" height="2" fill="#777"/><rect x="371.5" y="919" width="2.5" height="2" fill="#777"/>
<circle cx="364.5" cy="913" r="1.5" fill="none" stroke="#666" stroke-width="0.6"/><circle cx="364.5" cy="920" r="1.5" fill="none" stroke="#666" stroke-width="0.6"/>
<rect x="372" y="925" width="14" height="1.8" fill="#777"/>
</g>

<!-- ===== Box 4: action camera ===== -->
<g>
<rect x="467.1" y="820.4" width="70.3" height="51.6" rx="5" fill="#e4e4e4" stroke="#a8a8a8" stroke-width="1.2"/>
<rect x="469" y="870" width="66" height="3" fill="#888" opacity="0.6"/>
<rect x="473" y="813.4" width="59.1" height="7.6" rx="1.5" fill="#1a1a1a"/>
<rect x="478.4" y="815" width="15" height="7.6" rx="1" fill="#9a9a9a"/>
<rect x="471.9" y="824.7" width="64.5" height="44" rx="1.5" fill="#161616"/>
<rect x="462.3" y="831.1" width="6.4" height="11.9" rx="1" fill="#a8a8a8"/>
<rect x="462.3" y="848.3" width="6.4" height="11.8" rx="1" fill="#a8a8a8"/>
<circle cx="521.3" cy="842" r="20.5" fill="#0e0e0e"/>
<circle cx="521.3" cy="842" r="17" fill="#161616" stroke="#3c3c3c" stroke-width="1.4"/>
<clipPath id="cpLens"><circle cx="521.3" cy="842" r="16"/></clipPath><polygon clip-path="url(#cpLens)" points="533,825 512,856 500,856 500,820 540,820" fill="#8a8a8a" opacity="0.5"/>
<circle cx="521.3" cy="842" r="12.5" fill="none" stroke="#2e2e2e" stroke-width="1.2"/>
<circle cx="522" cy="842.5" r="7" fill="url(#gLens)"/>
<ellipse cx="517.5" cy="840.5" rx="2.2" ry="3" fill="#a8d0d0" opacity="0.45"/>
<text x="481" y="831" font-size="3" fill="#777">Vision 3</text>
<text x="481" y="848" font-size="2.4" fill="#888">Ultra HD</text>
<text x="480.6" y="845.2" font-size="9.4" font-weight="bold" fill="#f4f4f4">4K</text>
<circle cx="485.4" cy="858" r="7.4" fill="url(#gSilver)" stroke="#666" stroke-width="0.6"/>
<path d="M455.5,874.5 L495.6,875.2 L495.6,883.8 L457,888 Q454.5,888 454.5,885 L454.5,877 Q454.5,874.5 455.5,874.5 Z" fill="#1d1d1d"/>
<rect x="495.6" y="873" width="18.2" height="13" fill="#c4c4c4"/>
<rect x="499" y="873" width="2.4" height="13" fill="#222"/><rect x="505" y="873" width="2.4" height="13" fill="#222"/><rect x="510.5" y="873" width="2.2" height="13" fill="#222"/>
<rect x="513.8" y="875.2" width="9.7" height="8.6" rx="2" fill="#1d1d1d"/>
<path d="M487,894.5 L489,886 L518,886 L520.3,894.5 Z" fill="#1a1a1a"/>
</g>

<!-- ===== Box 5: ThinkPads ===== -->
<defs>
<filter id="fBlur1" x="-20%" y="-20%" width="140%" height="140%"><feGaussianBlur stdDeviation="1.2"/></filter>
<filter id="fBlur2" x="-20%" y="-20%" width="140%" height="140%"><feGaussianBlur stdDeviation="0.7"/></filter>
<clipPath id="cpTP1"><rect x="599.5" y="786" width="65.5" height="37.7"/></clipPath>
<clipPath id="cpTP2"><rect x="596.8" y="875.6" width="70.4" height="37"/></clipPath>
<clipPath id="cpMB1"><rect x="727.2" y="781.3" width="76.2" height="42.4"/></clipPath>
<clipPath id="cpMB2"><rect x="729.3" y="876" width="74.1" height="46.8"/></clipPath>
<linearGradient id="gTPsky" x1="0" y1="0" x2="0" y2="1"><stop offset="0" stop-color="#2e3a7a"/><stop offset="0.5" stop-color="#6a62a8"/><stop offset="1" stop-color="#8a7ab8"/></linearGradient>
<linearGradient id="gTPwater" x1="0" y1="0" x2="0" y2="1"><stop offset="0" stop-color="#22264a"/><stop offset="0.5" stop-color="#5a4e88"/><stop offset="0.8" stop-color="#6a5a98"/><stop offset="1" stop-color="#3a3068"/></linearGradient>
</defs>
<g>
<rect x="596.8" y="782.9" width="70.4" height="46" rx="1" fill="#161616"/>
<g clip-path="url(#cpTP1)">
<rect x="599.5" y="786" width="65.5" height="18" fill="url(#gTPsky)"/>
<g filter="url(#fBlur1)">
<ellipse cx="618" cy="790" rx="16" ry="2.5" fill="#2a357a"/>
<ellipse cx="612" cy="796" rx="14" ry="2.2" fill="#a07ab8" opacity="0.8"/>
<ellipse cx="652" cy="793" rx="12" ry="3" fill="#c8b0d8" opacity="0.8"/>
<ellipse cx="640" cy="797.5" rx="14" ry="1.8" fill="#9a80c0" opacity="0.7"/>
</g>
<path d="M599.5,803 L612,801.5 L628,801 L640,798.5 L652,800 L665,801.5 L665,805 L599.5,805.5 Z" fill="#23273f"/>
<rect x="599.5" y="805" width="65.5" height="18.7" fill="url(#gTPwater)"/>
<g filter="url(#fBlur2)">
<ellipse cx="625" cy="816" rx="18" ry="2.5" fill="#8a78b0" opacity="0.6"/>
<ellipse cx="650" cy="812" rx="12" ry="2" fill="#7a6aa8" opacity="0.6"/>
</g>
<rect x="599.5" y="806.2" width="20" height="1.2" fill="#9a8aa0" opacity="0.8"/>
<rect x="618" y="802.2" width="9" height="5.2" fill="#e0a048"/>
<rect x="618.5" y="807.5" width="8.5" height="6" fill="#c88a40" opacity="0.75" filter="url(#fBlur2)"/>
</g>
<path d="M580.7,829 L682.7,829 L682,832.5 Q681,833.6 678,833.6 L585,833.6 Q581.5,833.6 580.7,832 Z" fill="#141414"/>
</g>
<g>
<rect x="595.2" y="872.4" width="73.6" height="50" rx="1" fill="#141414"/>
<g clip-path="url(#cpTP2)">
<rect x="596.8" y="875.6" width="70.4" height="37" fill="#3c3a4e"/>
<filter id="fBlur3" x="-30%" y="-30%" width="160%" height="160%"><feGaussianBlur stdDeviation="2"/></filter>
<g filter="url(#fBlur3)" fill="none" stroke-linecap="round">
<path d="M596,882 Q618,879 634,889 Q644,896 650,906" stroke="#6ab86a" stroke-width="7"/>
<path d="M648,876 Q654,890 652,908" stroke="#70c070" stroke-width="6"/>
<path d="M660,876 Q664,892 662,910" stroke="#88d078" stroke-width="6"/>
<path d="M632,898 Q648,904 667,906" stroke="#a0e088" stroke-width="6"/>
<path d="M600,876 L640,876" stroke="#5a8a5a" stroke-width="3"/>
</g>
<path d="M596.8,902 L602,897.5 L608,899 L614,901 L622,901.5 L628,900 L633,903 L637,907 L640,912.6 L596.8,912.6 Z" fill="#1c1a26"/>
<rect x="636" y="910" width="31" height="2.6" fill="#5a8a5a" opacity="0.6" filter="url(#fBlur2)"/>
</g>
<path d="M581.8,922.3 L682.2,922.3 L681.5,925.5 Q680.5,926.6 677,926.6 L586,926.6 Q582.5,926.6 581.8,925 Z" fill="#1a1a1a"/>
</g>

<!-- ===== Box 6: MacBooks ===== -->
<defs>
<linearGradient id="gMB1b" x1="0" y1="0" x2="0" y2="1">
<stop offset="0" stop-color="#3a3090"/><stop offset="0.22" stop-color="#5a50b8"/><stop offset="0.36" stop-color="#9060b0"/><stop offset="0.43" stop-color="#f08aa0"/><stop offset="0.47" stop-color="#603860"/><stop offset="0.52" stop-color="#f0a0a0"/><stop offset="0.62" stop-color="#9a70c8"/><stop offset="0.8" stop-color="#5a58d0"/><stop offset="1" stop-color="#2a2470"/>
</linearGradient>
<linearGradient id="gMB2b" x1="0" y1="0" x2="1" y2="0"><stop offset="0" stop-color="#cfe9f7"/><stop offset="1" stop-color="#e6f1fa"/></linearGradient>
</defs>
<g>
<rect x="726" y="779.7" width="78.4" height="50.5" rx="1.5" fill="#151515"/>
<g clip-path="url(#cpMB1)">
<rect x="727.2" y="781.3" width="76.2" height="42.4" fill="url(#gMB1b)"/>
<g filter="url(#fBlur1)">
<ellipse cx="760" cy="785" rx="12" ry="1.8" fill="#b0c8f8" opacity="0.75"/>
<ellipse cx="740" cy="787" rx="10" ry="1.5" fill="#90a8f0" opacity="0.6"/>
<ellipse cx="790" cy="788" rx="10" ry="1.5" fill="#a8c0f8" opacity="0.6"/>
<ellipse cx="760" cy="813" rx="18" ry="3" fill="#7a90e8" opacity="0.6"/>
</g>
<path d="M727.2,803 Q733,808 738,823.7 L727.2,823.7 Z" fill="#1a1024"/>
<path d="M783,811 L789,808 L795,811 Z" fill="#1a1534"/>
<path d="M760,823.7 Q770,818 790,820 L803.4,818 L803.4,823.7 Z" fill="#f0b0c0" opacity="0.5"/>
</g>
<path d="M716.9,830 L813.6,830 L813,833 Q812,834.3 808,834.3 L722,834.3 Q718,834.3 716.9,832.5 Z" fill="#c4c4c8"/>
</g>
<g>
<rect x="727" y="873.4" width="78" height="52.1" rx="1.5" fill="#151515"/>
<g clip-path="url(#cpMB2)">
<rect x="729.3" y="876" width="74.1" height="46.8" fill="url(#gMB2b)"/>
<g filter="url(#fB15)">
<path d="M729.3,894 Q742,894 752,900 Q760,890 762,877 L770,877 Q774,890 770,903 L760,912 Q745,905 729.3,906 Z" fill="#3aa8e4"/>
<path d="M729.3,906 Q745,904 758,912 L752,922.8 L729.3,922.8 Z" fill="#e4f2fb"/>
<path d="M768,899 Q784,900 800,915 L792,920 Q778,910 766,908 Z" fill="#30a0e4"/>
<path d="M772,878 Q792,877 803.4,884 L803.4,902 Q788,897 774,896 Z" fill="#ece8f6"/>
<path d="M753,901 Q762,895 769,902 Q768,911 759,915 Z" fill="#2a5eb0"/>
<path d="M745,922.8 Q755,912 768,908 Q780,915 786,922.8 Z" fill="#7ac8f0"/>
</g>
<rect x="750" y="918.5" width="32" height="2.6" fill="#6a7080" opacity="0.7"/>
</g>
<path d="M718,925.5 L814.7,925.5 L814,927.8 Q813,928.8 809,928.8 L723,928.8 Q719,928.8 718,927.5 Z" fill="#bdbdc2"/>
</g>

<!-- ===== Box 7: phones ===== -->
<defs>
<filter id="fB15" x="-30%" y="-30%" width="160%" height="160%"><feGaussianBlur stdDeviation="1.4"/></filter>
<filter id="fB25" x="-30%" y="-30%" width="160%" height="160%"><feGaussianBlur stdDeviation="2.2"/></filter>
<clipPath id="cpS20"><rect x="860.8" y="775.8" width="26" height="58.1" rx="2"/></clipPath>
<clipPath id="cpG8"><rect x="920.5" y="775.8" width="26" height="58.1" rx="2"/></clipPath>
<clipPath id="cpV50"><rect x="947.5" y="780.8" width="12.8" height="52" rx="1.5"/></clipPath>
<clipPath id="cpIPad"><rect x="860.6" y="875.4" width="43.2" height="57.3" rx="1.5"/></clipPath>
<clipPath id="cpP3a"><rect x="948.6" y="880" width="12.4" height="52" rx="1.5"/></clipPath>
<clipPath id="cpP4"><rect x="922.8" y="876" width="24.4" height="56.8" rx="2"/></clipPath>
<linearGradient id="gS10b" x1="0" y1="0" x2="0" y2="1">
<stop offset="0" stop-color="#08204a"/><stop offset="0.2" stop-color="#0a4a78"/><stop offset="0.33" stop-color="#30d0d8"/><stop offset="0.45" stop-color="#40b8c0"/><stop offset="0.55" stop-color="#e8b8b8"/><stop offset="0.7" stop-color="#f0a8a8"/><stop offset="1" stop-color="#f0a0a8"/>
</linearGradient>
</defs>
<g>
<rect x="886.5" y="781.3" width="13.5" height="52.8" rx="2" fill="#3a2a2a"/>
<rect x="887.3" y="782.3" width="11.8" height="50.8" rx="1.5" fill="url(#gS10b)"/>
<ellipse cx="893" cy="815" rx="5" ry="3" fill="#30a8b8" opacity="0.7" filter="url(#fB15)"/>
<rect x="860" y="775" width="27.5" height="59.7" rx="2.5" fill="#4a4a4e"/>
<g clip-path="url(#cpS20)">
<rect x="860" y="775" width="28" height="60" fill="#dde6f0"/>
<g filter="url(#fB15)">
<path d="M860,801 Q868,797 876,800 Q878,790 882,786 Q887,785 888,787 L888,835 L860,835 Z" fill="#2a70b0"/>
<path d="M878,792 Q884,786 888,788 L888,805 Q882,803 878,800 Z" fill="#5a88b0"/>
<ellipse cx="868" cy="806" rx="6" ry="4" fill="#3a98e0"/>
<ellipse cx="878" cy="820" rx="6" ry="5" fill="#40c0d0"/>
<ellipse cx="869" cy="815" rx="3" ry="2.5" fill="#90c860"/>
<ellipse cx="867" cy="827" rx="4" ry="3" fill="#b8d870"/>
<ellipse cx="880" cy="830" rx="5" ry="3" fill="#80d8d0"/>
<ellipse cx="873" cy="810" rx="4" ry="4" fill="#1a5a98"/>
</g>
</g>
<rect x="946.3" y="779.8" width="15" height="54" rx="2" fill="#1a1a1a"/>
<g clip-path="url(#cpV50)">
<rect x="947" y="780" width="14" height="54" fill="#142050"/>
<g filter="url(#fB15)">
<ellipse cx="954" cy="800" rx="6" ry="8" fill="#2a4aa0"/>
<circle cx="950" cy="811" r="2.2" fill="#c8e080"/>
<circle cx="957" cy="815" r="2" fill="#a0e0d0"/>
<circle cx="952" cy="822" r="2.4" fill="#60b090"/>
<circle cx="958" cy="826" r="2" fill="#c0e860"/>
<circle cx="950" cy="830" r="1.8" fill="#e0e070"/>
<ellipse cx="957" cy="790" rx="3" ry="3" fill="#c8b040" opacity="0.7"/>
</g>
</g>
<rect x="919.7" y="775" width="27.6" height="59.5" rx="2.5" fill="#0c0c0c"/>
<g clip-path="url(#cpG8)">
<rect x="920" y="775" width="28" height="60" fill="#0a0c10"/>
<g filter="url(#fB15)">
<ellipse cx="936" cy="781" rx="10" ry="5" fill="#2a8a30"/>
<ellipse cx="942" cy="786" rx="5" ry="5" fill="#40a040"/>
<ellipse cx="923" cy="784" rx="3" ry="5" fill="#1a5a20"/>
<ellipse cx="923" cy="800" rx="2.5" ry="4" fill="#d05a20"/>
<ellipse cx="936" cy="798" rx="1.5" ry="4" fill="#c040b0"/>
<ellipse cx="926" cy="820" rx="5" ry="6" fill="#4030a0"/>
<ellipse cx="930" cy="828" rx="6" ry="4" fill="#e02a80"/>
<ellipse cx="942" cy="816" rx="4" ry="6" fill="#d8c840"/>
<ellipse cx="940" cy="830" rx="7" ry="4" fill="#30a040"/>
<ellipse cx="924" cy="810" rx="3" ry="5" fill="#206080"/>
</g>
<rect x="929" y="785.5" width="9" height="2.2" fill="#ddd" opacity="0.8"/>
</g>
</g>
<g>
<rect x="858.8" y="873.4" width="46.9" height="61.2" rx="3" fill="#151515"/>
<g clip-path="url(#cpIPad)">
<rect x="860" y="875" width="45" height="58" fill="#a8b4c8"/>
<g filter="url(#fB25)">
<rect x="858" y="873" width="22" height="20" fill="#3a70b0"/>
<rect x="880" y="873" width="26" height="14" fill="#3a0a18"/>
<ellipse cx="895" cy="893" rx="12" ry="8" fill="#c81828"/>
<path d="M858,902 Q875,895 890,898 Q900,900 906,905 L906,915 Q890,914 875,918 Q865,920 858,922 Z" fill="#e81830"/>
<ellipse cx="898" cy="910" rx="7" ry="6" fill="#f0c0e0"/>
<path d="M858,918 Q880,914 906,918 L906,935 L858,935 Z" fill="#40c0c8"/>
<path d="M858,920 Q870,919 878,922 L858,930 Z" fill="#6a3a80" opacity="0.8"/>
<rect x="858" y="928" width="20" height="7" fill="#2a6a80" opacity="0.7"/>
</g>
<rect x="876" y="880" width="12" height="2.6" fill="#eee" opacity="0.85"/>
</g>
<rect x="947.4" y="878.5" width="14.2" height="55.3" rx="2.5" fill="#111"/>
<g clip-path="url(#cpP3a)">
<rect x="948" y="879" width="14" height="54" fill="#141a2c"/>
<g filter="url(#fB15)">
<ellipse cx="955" cy="898" rx="5" ry="8" fill="#2a3a60"/>
<ellipse cx="954" cy="914" rx="6" ry="5" fill="#5a3a2a"/>
</g>
<g fill="#c8c8c8" opacity="0.7"><circle cx="950.5" cy="921" r="1.1"/><circle cx="954.5" cy="921" r="1.1"/><circle cx="958.5" cy="921" r="1.1"/></g>
<rect x="949" y="923.6" width="9.6" height="2.1" rx="1" fill="#ddd"/>
</g>
<rect x="921.5" y="874.3" width="27" height="59.6" rx="3" fill="#0e0e0e"/>
<g clip-path="url(#cpP4)">
<path d="M923.1,877.1 L929.8,877.1 L929.8,897.5 Q923.1,890 923.1,884 Z" fill="#f0c020"/>
<path d="M922.7,887.7 L929.8,897 L929.8,901 L922.7,901 Z" fill="#4a84e8"/>
<rect x="930.1" y="877" width="3.2" height="24" fill="#12305a"/>
<path d="M933.6,877.1 Q944.5,877.5 944.5,889 Q944.5,900.5 933.6,901 Z" fill="#34a853"/>
<rect x="922.7" y="901" width="7.1" height="12" fill="#ea4335"/>
<path d="M927.7,916.5 L942.4,899 L942.4,916.5 Z" fill="#4a84e8"/>
<path d="M936,916.5 L942.4,908 L942.4,916.5 Z" fill="#12305a"/>
<rect x="942" y="896.8" width="5.7" height="19.7" fill="#f0c020"/>
<rect x="927.7" y="916.5" width="20" height="3.5" fill="#34a853"/>
<g fill="#c8c8c8"><circle cx="925.5" cy="924.3" r="1.5"/><circle cx="930.1" cy="924.3" r="1.5"/><circle cx="935" cy="924.3" r="1.5"/><circle cx="939.6" cy="924.3" r="1.5"/></g>
<rect x="942" y="920.7" width="6" height="12" fill="#ea4335"/>
<rect x="924.1" y="927.8" width="21.9" height="2.8" rx="1.4" fill="#eeeeee"/>
</g>
</g>

</svg>
</body></html>
